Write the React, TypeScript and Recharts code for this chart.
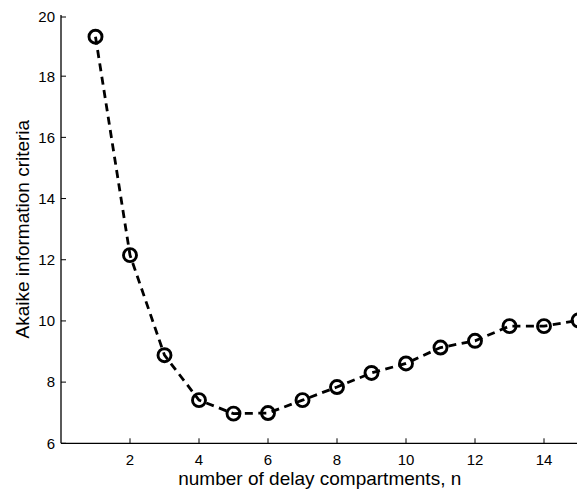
import { Label, Line, LineChart, XAxis, YAxis } from "recharts";

// model order vs AIC
const compartments = [1, 2, 3, 4, 5, 6, 7, 8, 9, 10, 11, 12, 13, 14, 15];
const aicValues = [19.29, 12.15, 8.88, 7.41, 6.97, 6.99, 7.41, 7.84, 8.3, 8.61, 9.13, 9.35, 9.83, 9.83, 10.02];
const xTicks = [2, 4, 6, 8, 10, 12, 14];
const yTicks = [6, 8, 10, 12, 14, 16, 18, 20];

const FONT = '"Liberation Sans", Arial, Helvetica, sans-serif';
const TICK_LEN = 5;

const data = compartments.map((n, i) => ({ n, aic: aicValues[i] }));

function BottomTick({ x, y, payload }: any) {
  return (
    <g>
      <line x1={x} y1={y} x2={x} y2={y - TICK_LEN} stroke="#000" strokeWidth={1} />
      <text x={x} y={y + 16} dy="0.355em" textAnchor="middle" fontSize={15} fontFamily={FONT} fill="#000">
        {payload.value}
      </text>
    </g>
  );
}

function TopTick({ x, y }: any) {
  return <line x1={x} y1={y} x2={x} y2={y + TICK_LEN} stroke="#000" strokeWidth={1} />;
}

function LeftTick({ x, y, payload }: any) {
  return (
    <g>
      <line x1={x} y1={y} x2={x + TICK_LEN} y2={y} stroke="#000" strokeWidth={1} />
      <text x={x - 6} y={y} dy="0.355em" textAnchor="end" fontSize={15} fontFamily={FONT} fill="#000">
        {payload.value}
      </text>
    </g>
  );
}

function RightTick({ x, y }: any) {
  return <line x1={x} y1={y} x2={x - TICK_LEN} y2={y} stroke="#000" strokeWidth={1} />;
}

export default function App() {
  return (
    <div style={{ position: "absolute", left: 0, top: 0, width: 577, height: 491, overflow: "hidden" }}>
      <div style={{ position: "absolute", left: 8, top: 8 }}>
        <LineChart width={580} height={483} data={data} margin={{ top: 7, right: 9.5, bottom: 0, left: 0 }}>
          <XAxis
            dataKey="n"
            type="number"
            domain={[0, 15]}
            ticks={xTicks}
            height={47.7}
            tickSize={0}
            tickMargin={0}
            tick={<BottomTick />}
            axisLine={{ stroke: "#000", strokeWidth: 1.3 }}
            tickLine={false}
          >
            <Label
              content={({ viewBox }: any) => (
                <text
                  x={viewBox.x + viewBox.width / 2}
                  y={viewBox.y + 35}
                  dy="0.355em"
                  textAnchor="middle"
                  fontSize={19}
                  fontFamily={FONT}
                  fill="#000"
                >
                  number of delay compartments, n
                </text>
              )}
            />
          </XAxis>
          <XAxis
            xAxisId="top"
            orientation="top"
            type="number"
            domain={[0, 15]}
            ticks={xTicks}
            allowDataOverflow
            height={0}
            tickSize={0}
            tickMargin={0}
            tick={<TopTick />}
            axisLine={{ stroke: "#000", strokeWidth: 1.3 }}
            tickLine={false}
          />
          <YAxis
            type="number"
            domain={[6, 20]}
            ticks={yTicks}
            width={53}
            tickSize={0}
            tickMargin={0}
            tick={<LeftTick />}
            axisLine={{ stroke: "#000", strokeWidth: 1.3 }}
            tickLine={false}
          >
            <Label
              content={({ viewBox }: any) => {
                const cx = viewBox.x + 14;
                const cy = viewBox.y + viewBox.height / 2;
                return (
                  <text
                    x={cx}
                    y={cy}
                    dy="0.355em"
                    transform={`rotate(-90 ${cx} ${cy})`}
                    textAnchor="middle"
                    fontSize={19}
                    fontFamily={FONT}
                    fill="#000"
                  >
                    Akaike information criteria
                  </text>
                );
              }}
            />
          </YAxis>
          <YAxis
            yAxisId="right"
            orientation="right"
            type="number"
            domain={[6, 20]}
            ticks={yTicks}
            allowDataOverflow
            width={0}
            tickSize={0}
            tickMargin={0}
            tick={<RightTick />}
            axisLine={{ stroke: "#000", strokeWidth: 1.3 }}
            tickLine={false}
          />
          <Line
            type="linear"
            dataKey="aic"
            stroke="#000"
            strokeWidth={2.8}
            strokeDasharray="8 5.5"
            dot={{ r: 6.5, fill: "none", stroke: "#000", strokeWidth: 2.9, strokeDasharray: "none" }}
            activeDot={false}
            isAnimationActive={false}
          />
        </LineChart>
      </div>
    </div>
  );
}
